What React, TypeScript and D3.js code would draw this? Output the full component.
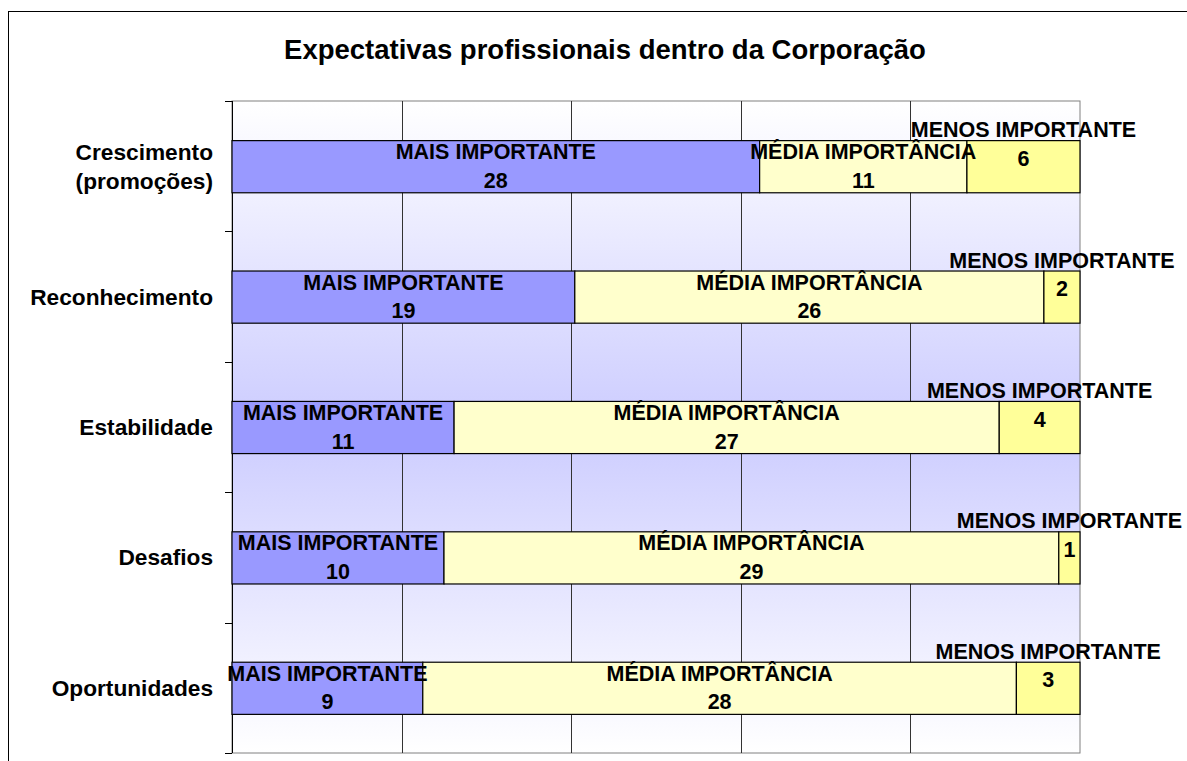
import React from 'react';
import * as d3 from 'd3';

const title = 'Expectativas profissionais dentro da Corporação';
const categories = ['Crescimento\n(promoções)', 'Reconhecimento', 'Estabilidade', 'Desafios', 'Oportunidades'];
const seriesNames = ['MAIS IMPORTANTE', 'MÉDIA IMPORTÂNCIA', 'MENOS IMPORTANTE'];
const maisImportante = [28, 19, 11, 10, 9];
const mediaImportancia = [11, 26, 27, 29, 28];
const menosImportante = [6, 2, 4, 1, 3];
const xTicks = [0, 0.2, 0.4, 0.6, 0.8, 1];

const colors = ['#9999ff', '#ffffcc', '#ffff99'];
const font = 'Arial, "Liberation Sans", sans-serif';

export default function App() {
  const width = 1187;
  const height = 761;
  const plot = { left: 232, top: 101, right: 1080, bottom: 753 };

  const rows = categories.map((c, i) => ({
    category: c,
    values: [maisImportante[i], mediaImportancia[i], menosImportante[i]],
  }));

  const x = d3.scaleLinear().domain([0, 1]).range([plot.left, plot.right]);
  const y = d3.scaleBand<string>()
    .domain(categories)
    .range([plot.top, plot.bottom])
    .paddingInner(0.6)
    .paddingOuter(0.3);
  const band = d3.scaleBand<string>().domain(categories).range([plot.top, plot.bottom]);

  const stack = d3.stack<{ category: string; values: number[] }, number>()
    .keys([0, 1, 2])
    .value((d, k) => d.values[k])
    .offset(d3.stackOffsetExpand);
  const stacked = stack(rows);

  return (
    <svg width={width} height={height} style={{ position: 'absolute', left: 0, top: 0 }} fontFamily={font}>
      <defs>
        <linearGradient id="bg" x1="0" y1="0" x2="0" y2="1">
          <stop offset="0" stopColor="#ffffff" />
          <stop offset="0.5" stopColor="#ccccff" />
          <stop offset="1" stopColor="#ffffff" />
        </linearGradient>
      </defs>
      <rect x={0} y={0} width={width} height={height} fill="#fff" />
      <rect x={8.5} y={11.5} width={width + 20} height={height + 20} fill="none" stroke="#000" strokeWidth={1} />
      <text x={605} y={59} textAnchor="middle" fontSize={27.5} fontWeight="bold">{title}</text>

      <rect x={plot.left} y={plot.top} width={plot.right - plot.left} height={plot.bottom - plot.top} fill="url(#bg)" stroke="#808080" />
      {xTicks.slice(1, -1).map(t => (
        <line key={t} x1={Math.round(x(t)) + 0.5} x2={Math.round(x(t)) + 0.5} y1={plot.top} y2={plot.bottom} stroke="#333" />
      ))}
      {/* category axis */}
      <line x1={plot.left + 0.5} x2={plot.left + 0.5} y1={plot.top} y2={plot.bottom} stroke="#000" />
      {band.domain().concat(['end']).map((c, i) => {
        const ty = Math.round(i < categories.length ? band(c)! : plot.bottom) + 0.5;
        return <line key={i} x1={plot.left - 7} x2={plot.left} y1={ty} y2={ty} stroke="#000" />;
      })}
      {categories.map(c => {
        const cy = y(c)! + y.bandwidth() / 2;
        const lines = c.split('\n');
        return (
          <text key={c} textAnchor="end" fontSize={22.7} fontWeight="bold">
            {lines.map((l, j) => (
              <tspan key={j} x={213} y={cy + 8 + (j - (lines.length - 1) / 2) * 29}>{l}</tspan>
            ))}
          </text>
        );
      })}

      {stacked.map((s, k) => (
        <g key={k}>
          {s.map((d, i) => (
            <rect key={i}
              x={x(d[0])} y={y(categories[i])! + 0.5}
              width={x(d[1]) - x(d[0])} height={y.bandwidth()}
              fill={colors[k]} stroke="#000" strokeWidth={1.2} />
          ))}
        </g>
      ))}
      {stacked.map((s, k) => (
        <g key={'l' + k} fontSize={21.5} fontWeight="bold" textAnchor="middle">
          {s.map((d, i) => {
            const cx = (x(d[0]) + x(d[1])) / 2;
            const cy = y(categories[i])! + y.bandwidth() / 2 + (k === 2 ? -22 : 0);
            return (
              <text key={i}>
                <tspan x={cx} y={cy - 7}>{seriesNames[k]}</tspan>
                <tspan x={cx} y={cy + 21.5}>{rows[i].values[k]}</tspan>
              </text>
            );
          })}
        </g>
      ))}
    </svg>
  );
}
